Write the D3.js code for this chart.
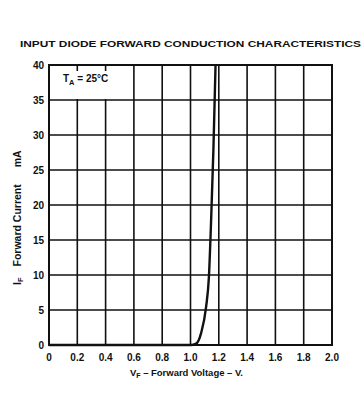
<!DOCTYPE html>
<html>
<head>
<meta charset="utf-8">
<script src="https://cdn.jsdelivr.net/npm/d3@7"></script>
<style>
  body { margin: 0; background: #fff; }
  svg text { font-family: "Liberation Sans", Arial, sans-serif; font-weight: bold; fill: #111; }
</style>
</head>
<body>
<svg id="chart" width="364" height="393"></svg>
<script>
// axis ticks
var xTicks = [0, 0.2, 0.4, 0.6, 0.8, 1.0, 1.2, 1.4, 1.6, 1.8, 2.0];
var xTickLabels = ["0", "0.2", "0.4", "0.6", "0.8", "1.0", "1.2", "1.4", "1.6", "1.8", "2.0"];
var yTicks = [0, 5, 10, 15, 20, 25, 30, 35, 40];

// forward curve
var vf = [0, 0.5, 0.95, 1.0, 1.04, 1.075, 1.11, 1.13, 1.146, 1.162, 1.177];
var iF = [0, 0, 0, 0, 0.2, 1.7, 5.4, 9.7, 18, 28, 40];

var margin = { left: 49, top: 65, right: 32, bottom: 48 };
var width = 364, height = 393;

var svg = d3.select("#chart");

var x = d3.scaleLinear().domain([0, 2.0]).range([margin.left, width - margin.right]);
var y = d3.scaleLinear().domain([0, 40]).range([height - margin.bottom, margin.top]);

// title
svg.append("text")
  .attr("x", 20).attr("y", 47)
  .attr("textLength", 341).attr("lengthAdjust", "spacingAndGlyphs")
  .style("font-size", "9px")
  .text("INPUT DIODE FORWARD CONDUCTION CHARACTERISTICS");

// grid
var grid = svg.append("g").attr("stroke", "#111").attr("stroke-width", 1.6);
grid.selectAll(".vx").data(xTicks).enter().append("line")
  .attr("x1", d => x(d)).attr("x2", d => x(d))
  .attr("y1", y(0)).attr("y2", y(40));
grid.selectAll(".hy").data(yTicks).enter().append("line")
  .attr("x1", x(0)).attr("x2", x(2.0))
  .attr("y1", d => y(d)).attr("y2", d => y(d));

// T_A label box (hides grid behind it)
var lab = svg.append("g");
lab.append("rect")
  .attr("x", x(0) + 2).attr("y", y(40) + 6)
  .attr("width", x(0.5) - x(0)).attr("height", y(35) - y(40) - 7)
  .attr("fill", "#fff");
var ta = lab.append("text").attr("x", x(0) + 14).attr("y", y(40) + 17).style("font-size", "10px");
ta.append("tspan").text("T");
ta.append("tspan").attr("dy", 3).style("font-size", "7.5px").text("A");
ta.append("tspan").attr("dy", -3).text(" = 25°C");

// curve
var line = d3.line()
  .x((d, i) => x(vf[i]))
  .y((d, i) => y(iF[i]))
  .curve(d3.curveMonotoneX);
svg.append("path")
  .datum(vf)
  .attr("d", line)
  .attr("fill", "none")
  .attr("stroke", "#111")
  .attr("stroke-width", 2.4);

// border
svg.append("rect")
  .attr("x", x(0)).attr("y", y(40))
  .attr("width", x(2.0) - x(0)).attr("height", y(0) - y(40))
  .attr("fill", "none").attr("stroke", "#111").attr("stroke-width", 2);

// tick labels
svg.selectAll(".yl").data(yTicks).enter().append("text")
  .attr("x", x(0) - 5).attr("y", d => y(d) + 3.5)
  .attr("text-anchor", "end")
  .style("font-size", "10px")
  .text(d => d);

svg.selectAll(".xl").data(xTicks).enter().append("text")
  .attr("x", d => x(d)).attr("y", y(0) + 16)
  .attr("text-anchor", "middle")
  .style("font-size", "10px")
  .text((d, i) => xTickLabels[i]);

// axis titles
var xt = svg.append("text")
  .attr("x", 130).attr("y", 376)
  .attr("textLength", 113).attr("lengthAdjust", "spacing")
  .style("font-size", "9.5px");
xt.append("tspan").text("V");
xt.append("tspan").attr("dy", 2).style("font-size", "7px").text("F");
xt.append("tspan").attr("dy", -2).text(" – Forward Voltage – V.");

var yt = svg.append("text")
  .attr("transform", "translate(21,285) rotate(-90)")
  .style("font-size", "10.5px");
yt.append("tspan").text("I");
yt.append("tspan").attr("dy", 2).style("font-size", "7.5px").text("F");
yt.append("tspan").attr("dy", -2).attr("dx", 11).text("Forward Current");
yt.append("tspan").attr("dx", 17).text("mA");
</script>
</body>
</html>
